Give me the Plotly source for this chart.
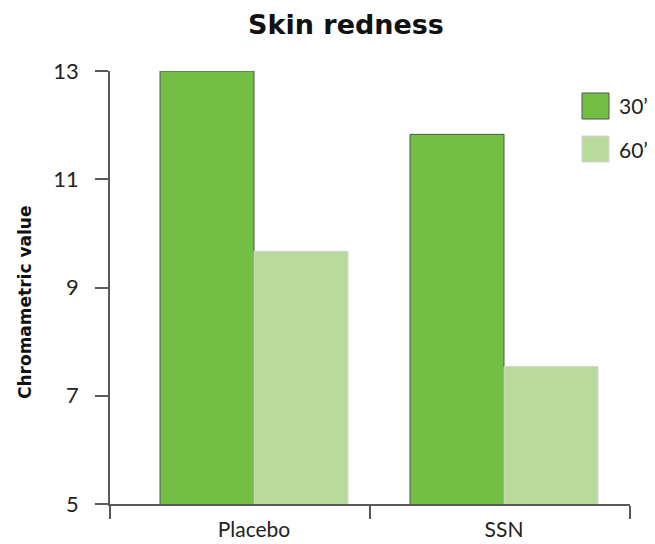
import plotly.graph_objects as go

categories = ["Placebo", "SSN"]
series_names = ["30\u2019", "60\u2019"]
values_30 = [13.0, 11.83]
values_60 = [9.67, 7.54]
y_ticks = [5, 7, 9, 11, 13]

dark_green = "#72BF44"
light_green = "#B8DB9C"
axis_color = "#595959"
tick_font = "Lato, 'Open Sans', sans-serif"
bold_font = "'DejaVu Sans', sans-serif"

fig = go.Figure()
fig.add_trace(go.Bar(x=categories, y=values_30, name=series_names[0],
                     marker=dict(color=dark_green, line=dict(color="#555555", width=1)),
                     base=0))
fig.add_trace(go.Bar(x=categories, y=values_60, name=series_names[1],
                     marker=dict(color=light_green, line=dict(color="#d4d4d4", width=1)),
                     base=0))
# invisible trace anchoring the boundary-tick axis
fig.add_trace(go.Scatter(x=[0, 2], y=[5, 5], xaxis="x2", mode="lines",
                         line=dict(width=0), hoverinfo="skip", showlegend=False))

# page body has an 8px margin: figure laid out so plot area lands at x 110-630, y 71-504
W, H = 647, 536
L, T, R, B = 102, 63, 25, 40
dom_w = W - L - R   # 520
dom_h = H - T - B   # 433
px_per_cat = 250.0
start = -(254 - 110) / px_per_cat

fig.update_layout(
    width=W, height=H,
    margin=dict(l=L, r=R, t=T, b=B, autoexpand=False),
    plot_bgcolor="white", paper_bgcolor="white",
    barmode="group", bargap=0.248, bargroupgap=0,
    showlegend=False,
    font=dict(family=tick_font, color="#222222"),
    title=dict(text="<b>Skin redness</b>", x=338 / W, xanchor="center",
               y=1 - 17 / H, yanchor="middle",
               font=dict(size=27, family=bold_font, color="#111111")),
    xaxis=dict(type="category", range=[start, start + dom_w / px_per_cat],
               showline=False, ticks="", showgrid=False, zeroline=False, automargin=False,
               tickfont=dict(size=21, color="#222222"), ticklabelstandoff=11),
    xaxis2=dict(overlaying="x", range=[0, 2], showline=True, linecolor=axis_color,
                linewidth=1.5, ticks="outside", tickvals=[0, 1, 2], ticklen=13,
                tickcolor=axis_color, tickwidth=1.5, showticklabels=False, automargin=False,
                showgrid=False, zeroline=False, side="bottom", anchor="y"),
    yaxis=dict(range=[5, 13], tickvals=y_ticks, showline=True, linecolor=axis_color,
               linewidth=1.5, ticks="outside", ticklen=13, tickcolor=axis_color,
               tickwidth=1.5, showgrid=False, zeroline=False, automargin=False,
               tickfont=dict(size=22, color="#222222"), ticklabelstandoff=12),
)

# y-axis title
fig.add_annotation(text="<b>Chromametric value</b>", textangle=-90,
                   xref="paper", yref="paper", x=(17 - L) / dom_w, y=(504 - 303) / dom_h,
                   xanchor="center", yanchor="middle", showarrow=False,
                   font=dict(size=17, family=bold_font, color="#111111"))

# legend drawn as large swatches
legend_rows = [(series_names[0], dark_green, "#555555", 93),
               (series_names[1], light_green, "#d4d4d4", 136)]
for name, col, lc, top in legend_rows:
    fig.add_shape(type="rect", xref="paper", yref="paper",
                  x0=(582 - 110) / dom_w, x1=(609 - 110) / dom_w,
                  y0=(504 - top) / dom_h, y1=(504 - top - 26) / dom_h,
                  fillcolor=col, line=dict(color=lc, width=1))
    fig.add_annotation(text=name, xref="paper", yref="paper",
                       x=(617 - 110) / dom_w, y=(504 - top - 13) / dom_h,
                       xanchor="left", yanchor="middle", showarrow=False,
                       font=dict(size=21, color="#222222"))

fig.write_html("out.html")
